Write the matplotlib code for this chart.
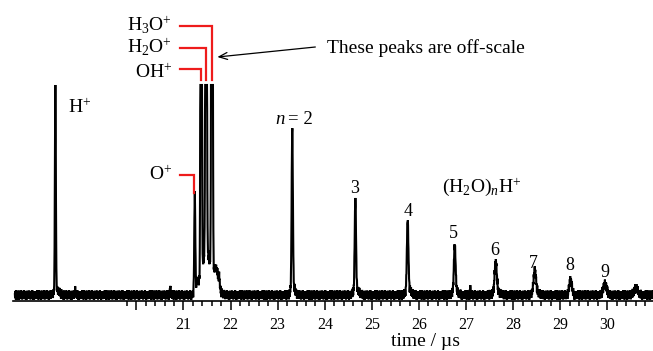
import numpy as np
import matplotlib
matplotlib.use("Agg")
import matplotlib.pyplot as plt
from matplotlib.ticker import FixedLocator, FixedFormatter

plt.rcParams['font.family'] = ['Liberation Serif', 'DejaVu Serif']
plt.rcParams['mathtext.fontset'] = 'custom'
plt.rcParams['mathtext.rm'] = 'Liberation Serif'
plt.rcParams['mathtext.it'] = 'Liberation Serif:italic'
plt.rcParams['path.simplify'] = False

# ---------------- data ----------------
# main peaks: flight time (us), height (arb., baseline = 0), gaussian width (us)
peak_names = ['H+', 'spike', 'spike', 'O+', 'OH+', 'H2O+', 'H3O+',
              'n2', 'n3', 'n4', 'n5', 'spike', 'n6', 'n7', 'n8', 'n9', 'n10']
peak_times = [18.28, 18.70, 20.72, 21.24, 21.375, 21.48, 21.605,
              23.31, 24.65, 25.76, 26.76, 27.09, 27.63, 28.46, 29.22, 29.95, 30.61]
peak_heights = [208, 7, 8, 95, 900, 900, 900,
                158, 90, 70, 46, 8, 30, 21, 15, 11, 7]
peak_sigmas = [0.010, 0.006, 0.006, 0.011, 0.011, 0.012, 0.012,
               0.013, 0.014, 0.016, 0.018, 0.006, 0.022, 0.026, 0.028, 0.035, 0.04]

# broad bases / tails under the peaks
base_times = [18.31, 21.30, 21.47, 21.62, 21.70, 21.76, 23.33, 24.67, 25.78, 26.78, 27.65, 28.48]
base_heights = [5, 12, 40, 18, 14, 8, 8, 6, 6, 4, 4, 3]
base_sigmas = [0.05, 0.04, 0.07, 0.09, 0.04, 0.012, 0.04, 0.05, 0.05, 0.05, 0.06, 0.06]

# off-scale level (tops of the saturated peaks)
clip_level = 210

# baseline noise (arb. units), repeated along the trace
noise = [0.8, -3.1, 4.1, -1.0, 2.0, -4.6, 0.5, 4.9, -1.9, -0.3, 3.1, -3.7, 1.5, -0.7, 3.6,
         -2.6, 0.0, 2.4, -4.9, 1.2, 4.4, -1.5, -3.2, 1.9, 0.7, -1.2, 3.7, -4.1, 2.7, -0.2,
         1.4, -2.2, 4.6, -3.4, 0.3, 3.2, -0.8, -4.4, 2.2, 1.0, -1.7, 3.9, -2.9, 0.2, 1.7,
         -3.6, 4.8, -0.5, -2.4, 1.5, 2.9, -4.2, 0.7, -1.4, 3.4, -2.0, 0.8, 2.6, -4.8, 0.3,
         4.2, -2.7, -0.7, 1.9, -1.5, 4.1, -3.9, 1.2, 0.0, -1.9, 3.1, -3.4, 4.4, -1.0, 0.5,
         -3.1, 2.0, 1.4, -4.4, 2.7, -0.3, 3.6, -2.4, 1.0, -1.2, 2.4, -3.7, 4.9, -1.7, 0.2,
         1.7, -2.6, 3.7, -4.9, 1.5, -0.5, 2.9, -3.2, 0.7, 3.9, -2.0, -0.8, 2.6, -4.1, 1.4,
         3.4, -1.4, -2.7, 2.2, 0.3, -3.6, 4.6, -0.2]

tick_values = [20, 21, 22, 23, 24, 25, 26, 27, 28, 29, 30]
tick_labels = ['', '21', '22', '23', '24', '25', '26', '27', '28', '29', '30']

cluster_numbers = ['3', '4', '5', '6', '7', '8', '9']
cluster_label_times = [24.64, 25.77, 26.74, 27.62, 28.42, 29.21, 29.95]
cluster_label_heights = [102, 79, 57, 40, 27, 25, 18]

# ---------------- build trace ----------------
t = np.linspace(17.42, 30.97, 3200)
sig = np.zeros_like(t)
for t0, h, s in zip(peak_times, peak_heights, peak_sigmas):
    sig += h * np.exp(-0.5 * ((t - t0) / s) ** 2)
for t0, h, s in zip(base_times, base_heights, base_sigmas):
    sig += h * np.exp(-0.5 * ((t - t0) / s) ** 2)
sig += np.resize(np.array(noise), t.size)
sig = np.minimum(sig, clip_level)

# ---------------- figure ----------------
W, H = 653, 351
fig = plt.figure(figsize=(W / 100, H / 100), dpi=100)
ax = fig.add_axes([13 / W, 50 / H, 640 / W, 301 / H])
ax.set_xlim(17.38, 30.97)
ax.set_ylim(-6, 295)

ax.plot(t, sig, color='black', lw=1.5, solid_joinstyle='miter')

for sp in ['top', 'left', 'right']:
    ax.spines[sp].set_visible(False)
ax.spines['bottom'].set_linewidth(1.2)
ax.yaxis.set_visible(False)
ax.xaxis.set_major_locator(FixedLocator(tick_values))
ax.xaxis.set_major_formatter(FixedFormatter(tick_labels))
minor = [round(19.8 + 0.2 * k, 1) for k in range(56)]
minor = [m for m in minor if abs(m - round(m)) > 1e-6]
ax.xaxis.set_minor_locator(FixedLocator(minor))
ax.tick_params(axis='x', which='major', direction='out', length=6.5, width=1.1,
               labelsize=11.5, pad=5)
ax.tick_params(axis='x', which='minor', direction='out', length=3.6, width=1.1)
ax.set_xlabel('time / µs', fontsize=14)
ax.xaxis.set_label_coords(0.645, -0.105)

# ---------------- annotations ----------------
red = '#ee1c1c'
fs = 14
# off-scale ion brackets
bracket_y = {'OH+': 226, 'H2O+': 247, 'H3O+': 269}
text_y = {'OH+': 217, 'H2O+': 242, 'H3O+': 264}
ion_tex = {'OH+': r'OH$^{+}$', 'H2O+': r'H$_{2}$O$^{+}$', 'H3O+': r'H$_{3}$O$^{+}$'}
x_left = 20.93
for name in ['OH+', 'H2O+', 'H3O+']:
    tp = peak_times[peak_names.index(name)]
    yb = bracket_y[name]
    ax.plot([x_left, tp, tp], [yb, yb, 215], color=red, lw=1.6, solid_joinstyle='miter',
            clip_on=False)
    ax.text(20.76, text_y[name], ion_tex[name], ha='right', va='baseline', fontsize=fs)

tO = peak_times[peak_names.index('O+')]
ax.plot([x_left, tO - 0.01, tO - 0.01], [120, 120, 102], color=red, lw=1.6,
        solid_joinstyle='miter')
ax.text(20.76, 115, r'O$^{+}$', ha='right', va='baseline', fontsize=fs)

ax.text(18.55, 182, r'H$^{+}$', ha='left', va='baseline', fontsize=fs)

ax.annotate('', xy=(21.72, 238), xytext=(23.80, 248),
            arrowprops=dict(arrowstyle='->,head_length=0.6,head_width=0.25',
                            lw=0.9, color='black', shrinkA=0, shrinkB=0))
ax.text(24.05, 242, 'These peaks are off-scale', ha='left', va='baseline', fontsize=fs)

ax.text(22.95, 171, 'n', style='italic', ha='left', va='baseline', fontsize=13.5)
ax.text(23.22, 171, '= 2', ha='left', va='baseline', fontsize=13.5)
ax.text(26.49, 103, r'(H$_{2}$O)$_{n}$H$^{+}$', ha='left', va='baseline', fontsize=fs)
for lab, tx, ty in zip(cluster_numbers, cluster_label_times, cluster_label_heights):
    ax.text(tx, ty, lab, ha='center', va='baseline', fontsize=13)

fig.savefig('out.png', dpi=100)
